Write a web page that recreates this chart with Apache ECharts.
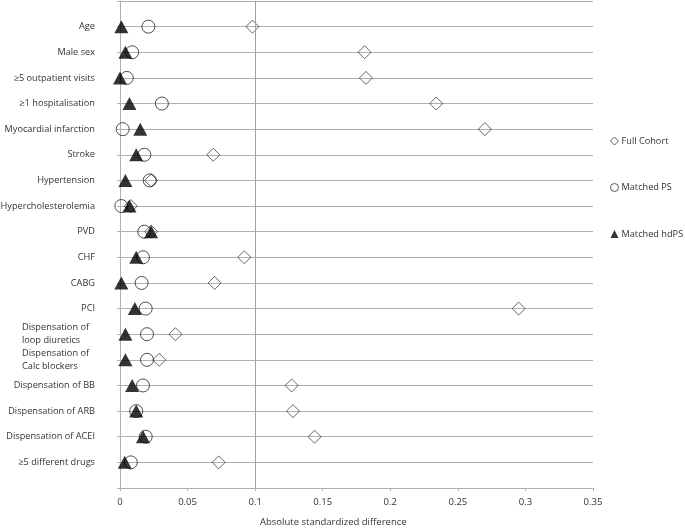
<!DOCTYPE html>
<html>
<head>
<meta charset="utf-8">
<script src="https://cdn.jsdelivr.net/npm/echarts@6/dist/echarts.min.js"></script>
<style>html,body{margin:0;padding:0;background:#fff;}#c{width:685px;height:529px;}</style>
</head>
<body>
<div id="c"></div>
<script>
const categories = [
  "Age", "Male sex", "≥5 outpatient visits", "≥1 hospitalisation", "Myocardial infarction",
  "Stroke", "Hypertension", "Hypercholesterolemia", "PVD", "CHF", "CABG", "PCI",
  "Dispensation of\nloop diuretics", "Dispensation of\nCalc blockers", "Dispensation of BB",
  "Dispensation of ARB", "Dispensation of ACEI", "≥5 different drugs"
];
const fullCohort = [0.098, 0.181, 0.182, 0.234, 0.270, 0.069, 0.023, 0.008, 0.023, 0.092, 0.070, 0.295, 0.041, 0.029, 0.127, 0.128, 0.144, 0.073];
const matchedPS  = [0.021, 0.009, 0.005, 0.031, 0.002, 0.018, 0.022, 0.001, 0.018, 0.017, 0.016, 0.019, 0.020, 0.020, 0.017, 0.012, 0.019, 0.008];
const matchedHdPS = [0.001, 0.004, 0.000, 0.007, 0.015, 0.012, 0.004, 0.007, 0.023, 0.012, 0.001, 0.011, 0.004, 0.004, 0.009, 0.012, 0.017, 0.0035];
const xTicks = [0, 0.05, 0.1, 0.15, 0.2, 0.25, 0.3, 0.35];
const refLine = 0.1;
const seriesNames = ["Full Cohort", "Matched PS", "Matched hdPS"];

const n = categories.length;
function toPoints(arr) { return arr.map((v, i) => [v, n - i]); }

const font = "Open Sans";
const fs = 9.2;
const chart = echarts.init(document.getElementById('c'));
chart.setOption({
  animation: false,
  backgroundColor: '#fff',
  textStyle: { fontFamily: font },
  grid: { left: 120, right: 92, top: 1, bottom: 41, containLabel: false, outerBoundsMode: 'none' },
  xAxis: {
    type: 'value', min: xTicks[0], max: xTicks[xTicks.length - 1], interval: 0.05,
    axisLine: { show: true, lineStyle: { color: '#b0b0b0', width: 1 } },
    axisTick: { show: true, length: 3, lineStyle: { color: '#b0b0b0' } },
    splitLine: { show: false },
    axisLabel: { color: '#333', fontSize: 9.5, fontFamily: font, margin: 9 }
  },
  yAxis: {
    type: 'value', min: 0, max: n + 1, interval: 1,
    axisLine: { show: true, lineStyle: { color: '#b0b0b0', width: 1 } },
    axisTick: { show: true, length: 3, lineStyle: { color: '#b0b0b0' } },
    splitLine: { show: true, lineStyle: { color: '#b0b0b0', width: 1 } },
    axisLabel: {
      color: '#333', fontSize: fs, fontFamily: font, margin: 25, align: 'right',
      formatter: function (v) {
        const idx = n - v;
        if (idx < 0 || idx >= n) return '';
        const lab = categories[idx];
        if (lab.indexOf('\n') >= 0) {
          return lab.split('\n').map(s => '{m|' + s + '}').join('\n');
        }
        return lab;
      },
      rich: { m: { width: 73, align: 'left', fontSize: fs, fontFamily: font, color: '#333', lineHeight: 13 } }
    }
  },
  legend: {
    orient: 'vertical', left: 610, top: 136.5, padding: 0, itemGap: 37.5, itemWidth: 8, itemHeight: 8,
    textStyle: { fontSize: fs, fontFamily: font, color: '#333', padding: [0, 0, 0, -2] },
    data: [
      { name: seriesNames[0], icon: 'diamond', itemStyle: { color: '#fff', borderColor: '#333', borderWidth: 1 } },
      { name: seriesNames[1], icon: 'circle', itemStyle: { color: '#fff', borderColor: '#333', borderWidth: 1 } },
      { name: seriesNames[2], icon: 'triangle', itemStyle: { color: '#000' } }
    ]
  },
  series: [
    {
      name: seriesNames[0], type: 'scatter', symbol: 'diamond', symbolSize: 13,
      itemStyle: { color: 'rgba(255,255,255,0)', borderColor: '#404040', borderWidth: 1 },
      data: toPoints(fullCohort),
      markLine: {
        silent: true, symbol: 'none', label: { show: false },
        lineStyle: { color: '#a0a0a0', type: 'solid', width: 1 },
        data: [{ xAxis: refLine }]
      }
    },
    {
      name: seriesNames[1], type: 'scatter', symbol: 'circle', symbolSize: 13,
      itemStyle: { color: 'rgba(255,255,255,0)', borderColor: '#222', borderWidth: 1 },
      data: toPoints(matchedPS)
    },
    {
      name: seriesNames[2], type: 'scatter', symbol: 'triangle', symbolSize: [14, 13],
      itemStyle: { color: '#000' },
      data: toPoints(matchedHdPS)
    }
  ],
  graphic: [{
    type: 'text', left: 260, top: 517,
    style: { text: 'Absolute standardized difference', fontSize: 9.5, fontFamily: font, fill: '#333' }
  }]
});
</script>
</body>
</html>
